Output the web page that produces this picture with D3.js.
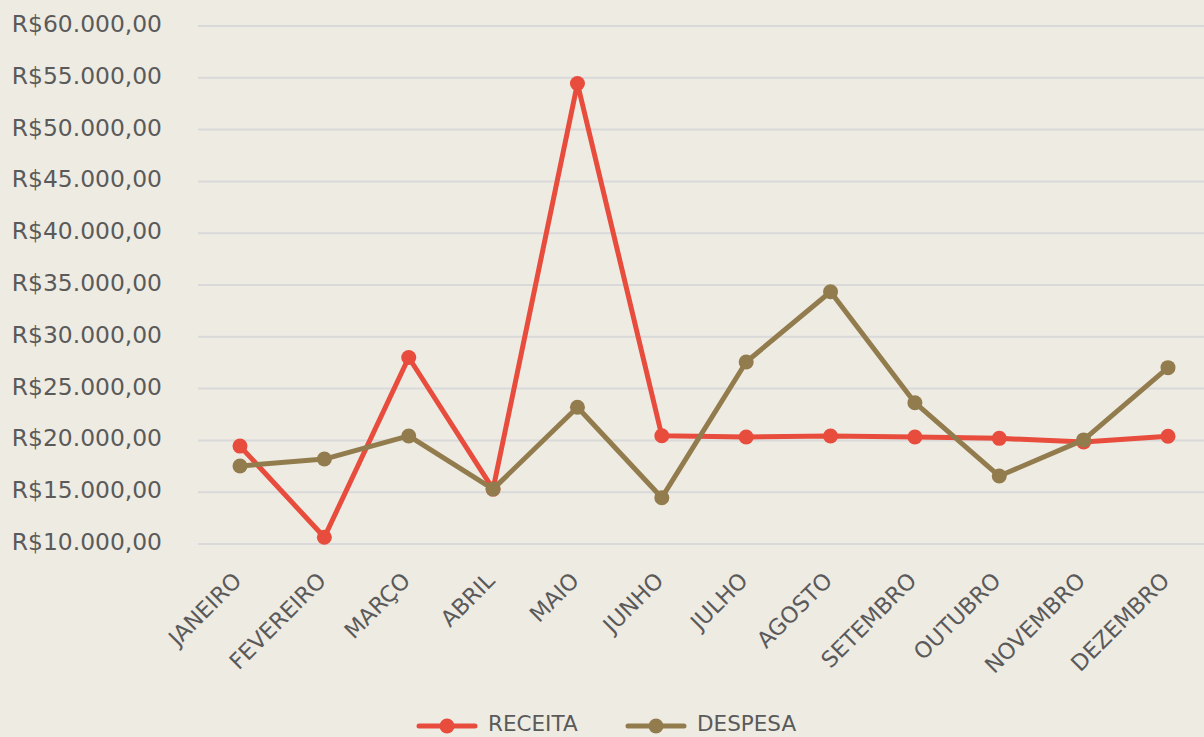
<!DOCTYPE html>
<html>
<head>
<meta charset="utf-8">
<script src="https://cdn.jsdelivr.net/npm/d3@7"></script>
<style>
  html, body { margin: 0; padding: 0; background: #EEEBE3; }
  svg { display: block; }
</style>
</head>
<body>
<div class="chart"></div>
<script>
// dados
const meses = ['JANEIRO', 'FEVEREIRO', 'MARÇO', 'ABRIL', 'MAIO', 'JUNHO', 'JULHO', 'AGOSTO', 'SETEMBRO', 'OUTUBRO', 'NOVEMBRO', 'DEZEMBRO'];
const receita = [19450, 10650, 28000, 15300, 54450, 20450, 20330, 20430, 20330, 20200, 19850, 20400];
const despesa = [17530, 18200, 20430, 15300, 23200, 14470, 27570, 34350, 23640, 16560, 20050, 27020];
const yTicks = [10000, 15000, 20000, 25000, 30000, 35000, 40000, 45000, 50000, 55000, 60000];
const series = [
  {name: 'RECEITA', values: receita, color: '#E84C3D'},
  {name: 'DESPESA', values: despesa, color: '#927C4D'}
];

const W = 1204, H = 737;
const font = 'DejaVu Sans, Verdana, sans-serif';
const textColor = '#5A5A5A';

const svg = d3.select('.chart').append('svg')
  .attr('width', W)
  .attr('height', H);

svg.append('rect').attr('width', W).attr('height', H).attr('fill', '#EEEBE3');

const x = d3.scalePoint(meses, [240, 1168]);
const y = d3.scaleLinear([10000, 60000], [544, 26]);

const fmt = v => 'R$' + d3.format(',.2f')(v).replace(/,/g, '#').replace('.', ',').replace(/#/g, '.');

// linhas de grade
svg.append('g')
  .selectAll('line')
  .data(yTicks)
  .join('line')
    .attr('x1', 198)
    .attr('x2', W)
    .attr('y1', d => y(d))
    .attr('y2', d => y(d))
    .attr('stroke', '#D9D9D9')
    .attr('stroke-width', 2);

// rótulos eixo y
svg.append('g')
  .selectAll('text')
  .data(yTicks)
  .join('text')
    .attr('x', 162)
    .attr('y', d => y(d) + 6)
    .attr('text-anchor', 'end')
    .attr('font-family', font)
    .attr('font-size', 23.4)
    .attr('fill', textColor)
    .text(fmt);

// rótulos eixo x
svg.append('g')
  .selectAll('text')
  .data(meses)
  .join('text')
    .attr('transform', d => `translate(${x(d) + 3}, 582) rotate(-45)`)
    .attr('text-anchor', 'end')
    .attr('font-family', font)
    .attr('font-size', 22.3)
    .attr('fill', textColor)
    .text(d => d);

// linhas
const line = d3.line()
  .x((d, i) => x(meses[i]))
  .y(d => y(d));

series.forEach(s => {
  const g = svg.append('g');
  g.append('path')
    .attr('d', line(s.values))
    .attr('fill', 'none')
    .attr('stroke', s.color)
    .attr('stroke-width', 5)
    .attr('stroke-linejoin', 'round')
    .attr('stroke-linecap', 'round');
  g.selectAll('circle')
    .data(s.values)
    .join('circle')
      .attr('cx', (d, i) => x(meses[i]))
      .attr('cy', d => y(d))
      .attr('r', 7.5)
      .attr('fill', s.color);
});

// legenda
const legendX = [419, 628];
const legend = svg.append('g')
  .selectAll('g')
  .data(series)
  .join('g')
    .attr('transform', (d, i) => `translate(${legendX[i]}, 726)`);
legend.append('line')
  .attr('x1', 0).attr('x2', 56)
  .attr('stroke', d => d.color)
  .attr('stroke-width', 5)
  .attr('stroke-linecap', 'round');
legend.append('circle')
  .attr('cx', 28)
  .attr('r', 7.5)
  .attr('fill', d => d.color);
legend.append('text')
  .attr('x', 69)
  .attr('y', 5)
  .attr('font-family', font)
  .attr('font-size', 21.5)
  .attr('fill', textColor)
  .text(d => d.name);
</script>
</body>
</html>
